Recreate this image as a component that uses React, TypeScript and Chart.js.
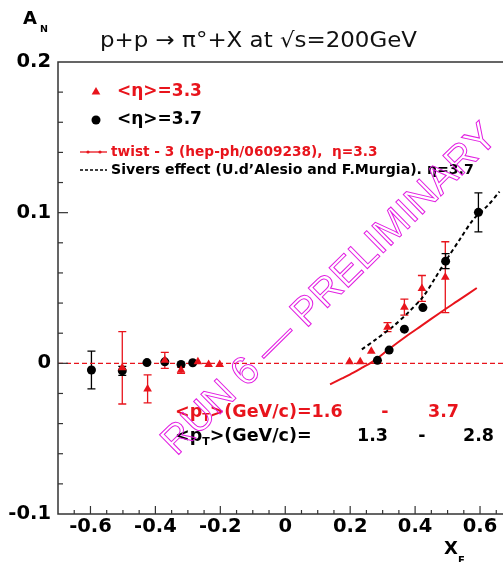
import React, { useEffect, useRef } from 'react';
import { Chart, registerables } from 'chart.js';
Chart.register(...registerables);

const RED = '#e8141c';
const BLACK = '#000000';
const MAGENTA = '#e21ee2';
const FONT = "'DejaVu Sans'";

// <eta> = 3.3 (red triangles)
const eta33X = [-0.502, -0.424, -0.371, -0.321, -0.269, -0.236, -0.202, 0.198, 0.231, 0.265, 0.315, 0.367, 0.421, 0.493];
const eta33Y = [-0.003, -0.017, 0.002, -0.0046, 0.001, -0.0007, -0.0007, 0.001, 0.001, 0.008, 0.024, 0.0373, 0.0497, 0.0572];
const eta33Err = [0.024, 0.0093, 0.0053, 0.002, 0.0, 0.0, 0.0, 0.0, 0.0, 0.0, 0.003, 0.0053, 0.0086, 0.0235];

// <eta> = 3.7 (black dots)
const eta37X = [-0.597, -0.502, -0.426, -0.371, -0.321, -0.285, 0.284, 0.32, 0.367, 0.424, 0.494, 0.595];
const eta37Y = [-0.0044, -0.005, 0.0005, 0.001, -0.0007, 0.0004, 0.002, 0.0088, 0.0227, 0.037, 0.0678, 0.1002];
const eta37Err = [0.0125, 0.003, 0.0, 0.0, 0.0, 0.0, 0.0, 0.0, 0.0, 0.0, 0.005, 0.013];

// twist-3 curve
const twistX = [0.138, 0.175, 0.21, 0.24, 0.272, 0.32, 0.374, 0.42, 0.477, 0.53, 0.59];
const twistY = [-0.0139, -0.01, -0.0062, -0.0025, 0.0015, 0.0095, 0.0181, 0.025, 0.0336, 0.0413, 0.05];

// Sivers effect curve
const siversX = [0.236, 0.28, 0.333, 0.38, 0.426, 0.46, 0.497, 0.54, 0.579, 0.625, 0.66];
const siversY = [0.0093, 0.016, 0.0247, 0.034, 0.0446, 0.056, 0.0689, 0.083, 0.0954, 0.105, 0.114];

const zeroX = [-0.7, 0.7];
const zeroY = [0, 0];

const xTickValues = [-0.6, -0.4, -0.2, 0, 0.2, 0.4, 0.6];
const xTickLabels = ['-0.6', '-0.4', '-0.2', '0', '0.2', '0.4', '0.6'];
const yTickValues = [-0.1, 0, 0.1, 0.2];
const yTickLabels = ['-0.1', '0', '0.1', '0.2'];

const titleText = 'p+p \u2192 \u03c0\u00b0+X at \u221as=200GeV';
const legendLabels = [
  '<\u03b7>=3.3',
  '<\u03b7>=3.7',
  'twist - 3 (hep-ph/0609238),  \u03b7=3.3',
  'Sivers effect (U.d\u2019Alesio and F.Murgia). \u03b7=3.7',
];
const watermarkText = 'RUN 6 \u2014 PRELIMINARY';
const ptRange33 = ['1.6', '3.7'];
const ptRange37 = ['1.3', '2.8'];

function pts(xs: number[], ys: number[]) {
  return xs.map((x, i) => ({ x, y: ys[i] }));
}

function labelFor(values: number[], labels: string[], v: number) {
  const i = values.findIndex((t) => Math.abs(t - v) < 1e-9);
  return i >= 0 ? labels[i] : '';
}

const errorBarPlugin = {
  id: 'errorBars',
  beforeDatasetsDraw(chart: any) {
    const ctx = chart.ctx;
    const xs = chart.scales.x;
    const ys = chart.scales.y;
    const sets = [
      { x: eta33X, y: eta33Y, e: eta33Err, c: RED },
      { x: eta37X, y: eta37Y, e: eta37Err, c: BLACK },
    ];
    ctx.save();
    ctx.lineWidth = 1.3;
    for (const s of sets) {
      ctx.strokeStyle = s.c;
      s.x.forEach((xv, i) => {
        const e = s.e[i];
        if (!e) return;
        const px = xs.getPixelForValue(xv);
        const y1 = ys.getPixelForValue(s.y[i] + e);
        const y2 = ys.getPixelForValue(s.y[i] - e);
        ctx.beginPath();
        ctx.moveTo(px, y1);
        ctx.lineTo(px, y2);
        ctx.moveTo(px - 4, y1);
        ctx.lineTo(px + 4, y1);
        ctx.moveTo(px - 4, y2);
        ctx.lineTo(px + 4, y2);
        ctx.stroke();
      });
    }
    ctx.restore();
  },
};

function tri(ctx: CanvasRenderingContext2D, x: number, y: number, r: number) {
  ctx.beginPath();
  for (let k = 0; k < 3; k++) {
    const a = (k * 2 * Math.PI) / 3;
    const px = x + Math.sin(a) * r;
    const py = y - Math.cos(a) * r;
    if (k === 0) ctx.moveTo(px, py);
    else ctx.lineTo(px, py);
  }
  ctx.closePath();
  ctx.fill();
}

const decorPlugin = {
  id: 'decor',
  afterDraw(chart: any) {
    const ctx: CanvasRenderingContext2D = chart.ctx;
    const { left, top, right, bottom } = chart.chartArea;
    const xs = chart.scales.x;
    const ys = chart.scales.y;
    ctx.save();
    // frame
    ctx.strokeStyle = '#333';
    ctx.lineWidth = 1.5;
    ctx.strokeRect(left, top, right - left, bottom - top);
    // y ticks
    ctx.lineWidth = 1.2;
    for (let k = -4; k <= 9; k++) {
      const v = k * 0.02;
      const py = ys.getPixelForValue(v);
      const len = k % 5 === 0 ? 10 : 5;
      ctx.beginPath();
      ctx.moveTo(left, py);
      ctx.lineTo(left + len, py);
      ctx.stroke();
    }
    for (let k = -13; k <= 13; k++) {
      const v = k * 0.05;
      const px = xs.getPixelForValue(v);
      const len = k % 4 === 0 ? 8 : 4;
      ctx.beginPath();
      ctx.moveTo(px, bottom);
      ctx.lineTo(px, bottom - len);
      ctx.stroke();
    }

    // title
    ctx.fillStyle = '#111';
    ctx.textBaseline = 'middle';
    ctx.textAlign = 'left';
    ctx.font = `21px ${FONT}`;
    const tw = ctx.measureText(titleText).width;
    ctx.save();
    ctx.translate(100, 42);
    ctx.scale(317 / tw, 1);
    ctx.fillText(titleText, 0, 0);
    ctx.restore();

    // axis titles
    ctx.fillStyle = BLACK;
    ctx.font = `bold 18px ${FONT}`;
    ctx.fillText('A', 23, 19);
    ctx.font = `bold 9.5px ${FONT}`;
    ctx.fillText('N', 40, 30);
    ctx.font = `bold 18px ${FONT}`;
    ctx.fillText('X', 444, 549);
    ctx.font = `bold 10px ${FONT}`;
    ctx.fillText('F', 458, 561);

    // legend
    ctx.fillStyle = RED;
    tri(ctx, 96, 92, 5);
    ctx.font = `bold 17px ${FONT}`;
    ctx.fillText(legendLabels[0], 117, 92);
    ctx.fillStyle = BLACK;
    ctx.beginPath();
    ctx.arc(96, 120, 4.5, 0, Math.PI * 2);
    ctx.fill();
    ctx.fillText(legendLabels[1], 117, 120);

    ctx.strokeStyle = RED;
    ctx.lineWidth = 1.3;
    ctx.beginPath();
    ctx.moveTo(80, 152);
    ctx.lineTo(107, 152);
    ctx.stroke();
    ctx.fillStyle = RED;
    [88, 100].forEach((x) => {
      ctx.beginPath();
      ctx.arc(x, 152, 1.6, 0, Math.PI * 2);
      ctx.fill();
    });
    ctx.font = `bold 13.7px ${FONT}`;
    ctx.fillText(legendLabels[2], 111, 152);

    ctx.strokeStyle = BLACK;
    ctx.setLineDash([3, 2]);
    ctx.beginPath();
    ctx.moveTo(80, 170);
    ctx.lineTo(107, 170);
    ctx.stroke();
    ctx.setLineDash([]);
    ctx.fillStyle = BLACK;
    ctx.font = `bold 14.1px ${FONT}`;
    ctx.fillText(legendLabels[3], 111, 170);

    // pT ranges
    const ptLine = (y: number, color: string, lo: string, hi: string, xLo: number, xDash: number, xHi: number) => {
      ctx.fillStyle = color;
      ctx.textAlign = 'left';
      ctx.font = `bold 17.5px ${FONT}`;
      let x = 175;
      ctx.fillText('<p', x, y);
      x += ctx.measureText('<p').width;
      ctx.font = `bold 11px ${FONT}`;
      ctx.fillText('T', x, y + 6);
      x += ctx.measureText('T').width;
      ctx.font = `bold 17.5px ${FONT}`;
      const eq = '>(GeV/c)=';
      ctx.fillText(eq, x, y);
      x += ctx.measureText(eq).width;
      ctx.fillText(lo, xLo < 0 ? x : xLo, y);
      ctx.textAlign = 'center';
      ctx.fillText('-', xDash, y);
      ctx.textAlign = 'left';
      ctx.fillText(hi, xHi, y);
    };
    ptLine(412, RED, ptRange33[0], ptRange33[1], -1, 385, 428);
    ptLine(436, BLACK, ptRange37[0], ptRange37[1], 357, 422, 463);

    // watermark
    ctx.save();
    ctx.translate(330, 290);
    ctx.rotate((-44.6 * Math.PI) / 180);
    ctx.font = `40px 'Liberation Sans'`;
    ctx.textAlign = 'center';
    ctx.textBaseline = 'middle';
    ctx.strokeStyle = MAGENTA;
    ctx.lineWidth = 1;
    ctx.strokeText(watermarkText, 0, 0);
    ctx.restore();

    ctx.restore();
  },
};

export default function App() {
  const ref = useRef<HTMLCanvasElement>(null);
  useEffect(() => {
    document.documentElement.style.overflow = 'hidden';
    document.body.style.overflow = 'hidden';
    const tickFont = { family: FONT, size: 19.5, weight: 'bold' as const };
    const chart = new Chart(ref.current!, {
      type: 'scatter',
      data: {
        datasets: [
          {
            label: legendLabels[0],
            data: pts(eta33X, eta33Y),
            pointStyle: 'triangle',
            pointRadius: 5,
            backgroundColor: RED,
            borderColor: RED,
            borderWidth: 0,
            showLine: false,
            order: 0,
          },
          {
            label: legendLabels[1],
            data: pts(eta37X, eta37Y),
            pointStyle: 'circle',
            pointRadius: 4.5,
            backgroundColor: BLACK,
            borderColor: BLACK,
            borderWidth: 0,
            showLine: false,
            order: 0,
          },
          {
            label: legendLabels[2],
            data: pts(twistX, twistY),
            showLine: true,
            borderColor: RED,
            borderWidth: 2,
            pointRadius: 0,
            tension: 0.3,
            order: 1,
          },
          {
            label: legendLabels[3],
            data: pts(siversX, siversY),
            showLine: true,
            borderColor: BLACK,
            borderWidth: 2,
            borderDash: [4, 3],
            pointRadius: 0,
            tension: 0.3,
            order: 1,
          },
          {
            label: 'zero',
            data: pts(zeroX, zeroY),
            showLine: true,
            borderColor: RED,
            borderWidth: 1.3,
            borderDash: [5, 3],
            pointRadius: 0,
            order: 2,
          },
        ],
      },
      options: {
        animation: false,
        responsive: false,
        devicePixelRatio: 1,
        layout: { padding: { top: 62, right: 7.5, left: 0, bottom: 0 } },
        plugins: { legend: { display: false }, tooltip: { enabled: false }, title: { display: false } },
        scales: {
          x: {
            type: 'linear',
            min: -0.7,
            max: 0.7,
            grid: { display: false, drawTicks: false },
            border: { display: false },
            afterBuildTicks: (s: any) => {
              s.ticks = xTickValues.map((v) => ({ value: v }));
            },
            afterFit: (s: any) => {
              s.height = 48;
            },
            ticks: {
              font: tickFont,
              color: BLACK,
              padding: 1,
              maxRotation: 0,
              autoSkip: false,
              callback: (v: any) => labelFor(xTickValues, xTickLabels, Number(v)),
            },
          },
          y: {
            type: 'linear',
            min: -0.1,
            max: 0.2,
            grid: { display: false, drawTicks: false },
            border: { display: false },
            afterBuildTicks: (s: any) => {
              s.ticks = yTickValues.map((v) => ({ value: v }));
            },
            afterFit: (s: any) => {
              s.width = 58;
            },
            ticks: {
              font: tickFont,
              color: BLACK,
              padding: 7,
              autoSkip: false,
              callback: (v: any) => labelFor(yTickValues, yTickLabels, Number(v)),
            },
          },
        },
      },
      plugins: [errorBarPlugin, decorPlugin],
    } as any);
    return () => chart.destroy();
  }, []);
  return (
    <div style={{ position: 'fixed', left: 0, top: 0, width: 520, height: 562, background: '#fff' }}>
      <canvas ref={ref} width={520} height={562} style={{ display: 'block', width: 520, height: 562 }} />
    </div>
  );
}
